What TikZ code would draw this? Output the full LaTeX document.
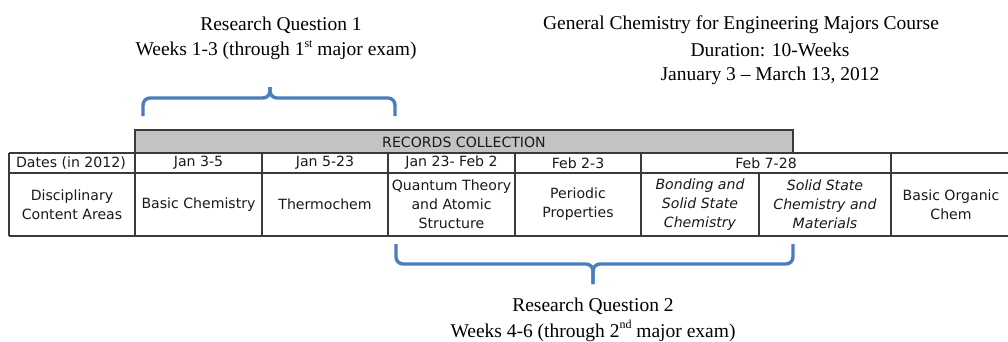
\documentclass[tikz,border=0pt]{standalone}
\usepackage{fontspec}
\setmainfont{Liberation Serif}
\newfontfamily\tabfont{DejaVu Sans}
\definecolor{braceblue}{HTML}{4A7EBB}
\definecolor{gridline}{HTML}{3A3A3A}
\definecolor{barfill}{HTML}{C3C3C3}
\newcommand{\smallsup}[1]{\raisebox{0.42em}{\fontsize{12}{12}\selectfont #1}}
\begin{document}
\begin{tikzpicture}[x=1pt,y=-1pt,
  title/.style={font=\fontsize{19.5}{26}\selectfont, align=center, inner sep=0pt},
  cell/.style={font=\tabfont\fontsize{14.1}{19}\selectfont, align=center, inner sep=0pt, text=black!90},
  itcell/.style={cell, font=\tabfont\itshape\fontsize{14.1}{19}\selectfont},
  rule/.style={draw=gridline, line width=1.6pt},
  bracestroke/.style={draw=braceblue, line width=3.4pt, rounded corners=7pt}]
\useasboundingbox (0,0) rectangle (1008,341);

% headings
\node[title] (rq1a) at (281,25) {Research Question 1};
\node[title] (rq1b) at (276,50) {Weeks 1-3 (through 1\smallsup{st} major exam)};
\node[title] (gc1) at (741,25) {General Chemistry for Engineering Majors Course};
\node[title] (gc2) at (770,50) {Duration: 10-Weeks};
\node[title] (gc3) at (770,76) {January 3 -- March 13, 2012};
\node[title] (rq2a) at (593,306) {Research Question 2};
\node[title] (rq2b) at (593,331) {Weeks 4-6 (through 2\smallsup{nd} major exam)};

% records collection bar
\draw[rule, fill=barfill] (135,153) rectangle (793,130);
\node[cell] (rec) at (464,142) {RECORDS COLLECTION};

% table grid
\draw[rule] (9,153) -- (1008,153);
\draw[rule] (9,173) -- (1008,173);
\draw[rule] (9,236) -- (1008,236);
\draw[rule] (9,153) -- (9,236);
\foreach \xx in {135,262,388,515,641,891} \draw[rule] (\xx,153) -- (\xx,236);
\draw[rule] (759,173) -- (759,236);

% dates row
\node[cell] (d0) at (71,163) {Dates (in 2012)};
\node[cell] (d1) at (198.5,163) {Jan 3-5};
\node[cell] (d2) at (325,163) {Jan 5-23};
\node[cell] (d3) at (451.5,163) {Jan 23- Feb 2};
\node[cell] (d4) at (578,163) {Feb 2-3};
\node[cell] (d5) at (766,163) {Feb 7-28};

% content areas row
\node[cell] (c0) at (72,204.5) {Disciplinary\\Content Areas};
\node[cell] (c1) at (198.5,204.5) {Basic Chemistry};
\node[cell] (c2) at (325,204.5) {Thermochem};
\node[cell] (c3) at (451.5,204.5) {Quantum Theory\\and Atomic\\Structure};
\node[cell] (c4) at (578,204.5) {Periodic\\Properties};
\node[itcell] (c5) at (700,204.5) {Bonding and\\Solid State\\Chemistry};
\node[itcell] (c6) at (825,204.5) {Solid State\\Chemistry and\\Materials};
\node[cell] (c7) at (951,204.5) {Basic Organic\\Chem};

% braces
\coordinate (b1l) at (143,116);
\coordinate (b1r) at (395,116);
\coordinate (b1tip) at (270,87);
\draw[bracestroke] (b1l) -- (143,98) -- (270,98) -- (b1tip);
\draw[bracestroke] (b1r) -- (395,98) -- (270,98) -- (b1tip);

\coordinate (b2l) at (396,244);
\coordinate (b2r) at (793,244);
\coordinate (b2tip) at (593,284);
\draw[bracestroke] (b2l) -- (396,264) -- (593,264) -- (b2tip);
\draw[bracestroke] (b2r) -- (793,264) -- (593,264) -- (b2tip);
\end{tikzpicture}
\end{document}
